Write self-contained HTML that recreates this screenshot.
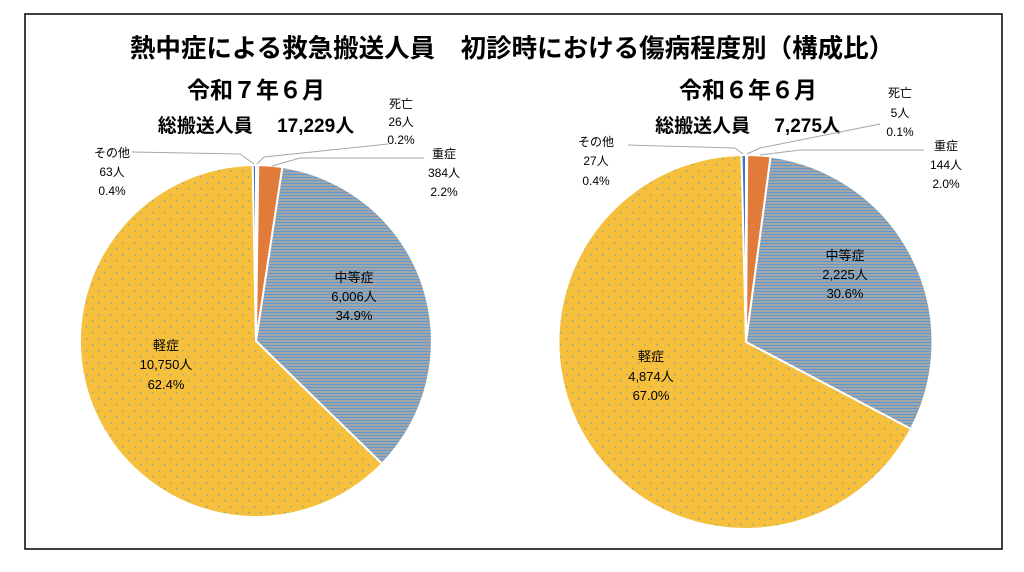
<!DOCTYPE html>
<html><head><meta charset="utf-8"><style>
body{margin:0;background:#fff;}
svg text{font-family:"Liberation Sans","Noto Sans CJK JP",sans-serif;}
</style></head><body>
<svg width="1024" height="567" viewBox="0 0 1024 567" xmlns="http://www.w3.org/2000/svg">
<defs>
<pattern id="st" width="4" height="3" patternUnits="userSpaceOnUse">
<rect width="4" height="3" fill="#a5a5a5"/><rect y="0" width="4" height="1" fill="#5b9bd5"/>
</pattern>
<pattern id="dt" width="12" height="12" patternUnits="userSpaceOnUse">
<rect width="12" height="12" fill="#f6bf3c"/>
<rect x="2" y="2" width="1.5" height="1.5" fill="#5b9bd5" opacity="0.7"/>
<rect x="8" y="8" width="1.5" height="1.5" fill="#5b9bd5" opacity="0.7"/>
</pattern>
</defs>
<rect x="25" y="14" width="977" height="535" fill="#fff" stroke="#000" stroke-width="1.5"/>
<text x="512" y="57" text-anchor="middle" font-size="25.5" font-weight="bold">熱中症による救急搬送人員　初診時における傷病程度別（構成比）</text>
<text x="256" y="98" text-anchor="middle" font-size="23" font-weight="bold">令和７年６月</text>
<text x="256" y="132" text-anchor="middle" font-size="19" font-weight="bold">総搬送人員　 17,229人</text>
<text x="748" y="98" text-anchor="middle" font-size="23" font-weight="bold">令和６年６月</text>
<text x="748" y="132" text-anchor="middle" font-size="19" font-weight="bold">総搬送人員　  7,275人</text>

<g stroke="#fff" stroke-width="2" stroke-linejoin="round">
<path d="M256,341 L256,165 A176,176 0 0 1 258.2,165 Z" fill="#5b9bd5"/>
<path d="M256,341 L258.2,165 A176,176 0 0 1 282.4,167 Z" fill="#e07b39"/>
<path d="M256,341 L282.4,167 A176,176 0 0 1 382,463.8 Z" fill="url(#st)"/>
<path d="M256,341 L382,463.8 A176,176 0 1 1 252.7,165 Z" fill="url(#dt)"/>
<path d="M256,341 L252.7,165 A176,176 0 0 1 256,165 Z" fill="#4472c4"/>

<path d="M746,342 L746,155 A187,187 0 0 1 747.2,155 Z" fill="#5b9bd5"/>
<path d="M746,342 L747.2,155 A187,187 0 0 1 770.6,156.6 Z" fill="#e07b39"/>
<path d="M746,342 L770.6,156.6 A187,187 0 0 1 911,429 Z" fill="url(#st)"/>
<path d="M746,342 L911,429 A187,187 0 1 1 741.5,155 Z" fill="url(#dt)"/>
<path d="M746,342 L741.5,155 A187,187 0 0 1 746,155 Z" fill="#4472c4"/>
</g>

<g stroke="#a6a6a6" stroke-width="1" fill="none">
<polyline points="257,164 264,157 388,144"/>
<polyline points="272,166 300,158 424,158"/>
<polyline points="254,164 240,154 132,152"/>
<polyline points="747,154 760,148 880,124"/>
<polyline points="760,155 800,150 924,150"/>
<polyline points="743,154 735,148 628,145"/>
</g>

<g font-size="12" text-anchor="middle" fill="#000">
<text x="401" y="108">死亡</text><text x="401" y="126">26人</text><text x="401" y="144">0.2%</text>
<text x="444" y="158">重症</text><text x="444" y="177">384人</text><text x="444" y="196">2.2%</text>
<text x="112" y="157">その他</text><text x="112" y="176">63人</text><text x="112" y="195">0.4%</text>
<text x="354" y="282" font-size="13">中等症</text><text x="354" y="301" font-size="13">6,006人</text><text x="354" y="320" font-size="13">34.9%</text>
<text x="166" y="350" font-size="13">軽症</text><text x="166" y="369" font-size="13">10,750人</text><text x="166" y="389" font-size="13">62.4%</text>

<text x="900" y="97">死亡</text><text x="900" y="117">5人</text><text x="900" y="136">0.1%</text>
<text x="946" y="150">重症</text><text x="946" y="169">144人</text><text x="946" y="188">2.0%</text>
<text x="596" y="146">その他</text><text x="596" y="165">27人</text><text x="596" y="185">0.4%</text>
<text x="845" y="260" font-size="13">中等症</text><text x="845" y="279" font-size="13">2,225人</text><text x="845" y="298" font-size="13">30.6%</text>
<text x="651" y="361" font-size="13">軽症</text><text x="651" y="381" font-size="13">4,874人</text><text x="651" y="400" font-size="13">67.0%</text>
</g>
</svg>
</body></html>
